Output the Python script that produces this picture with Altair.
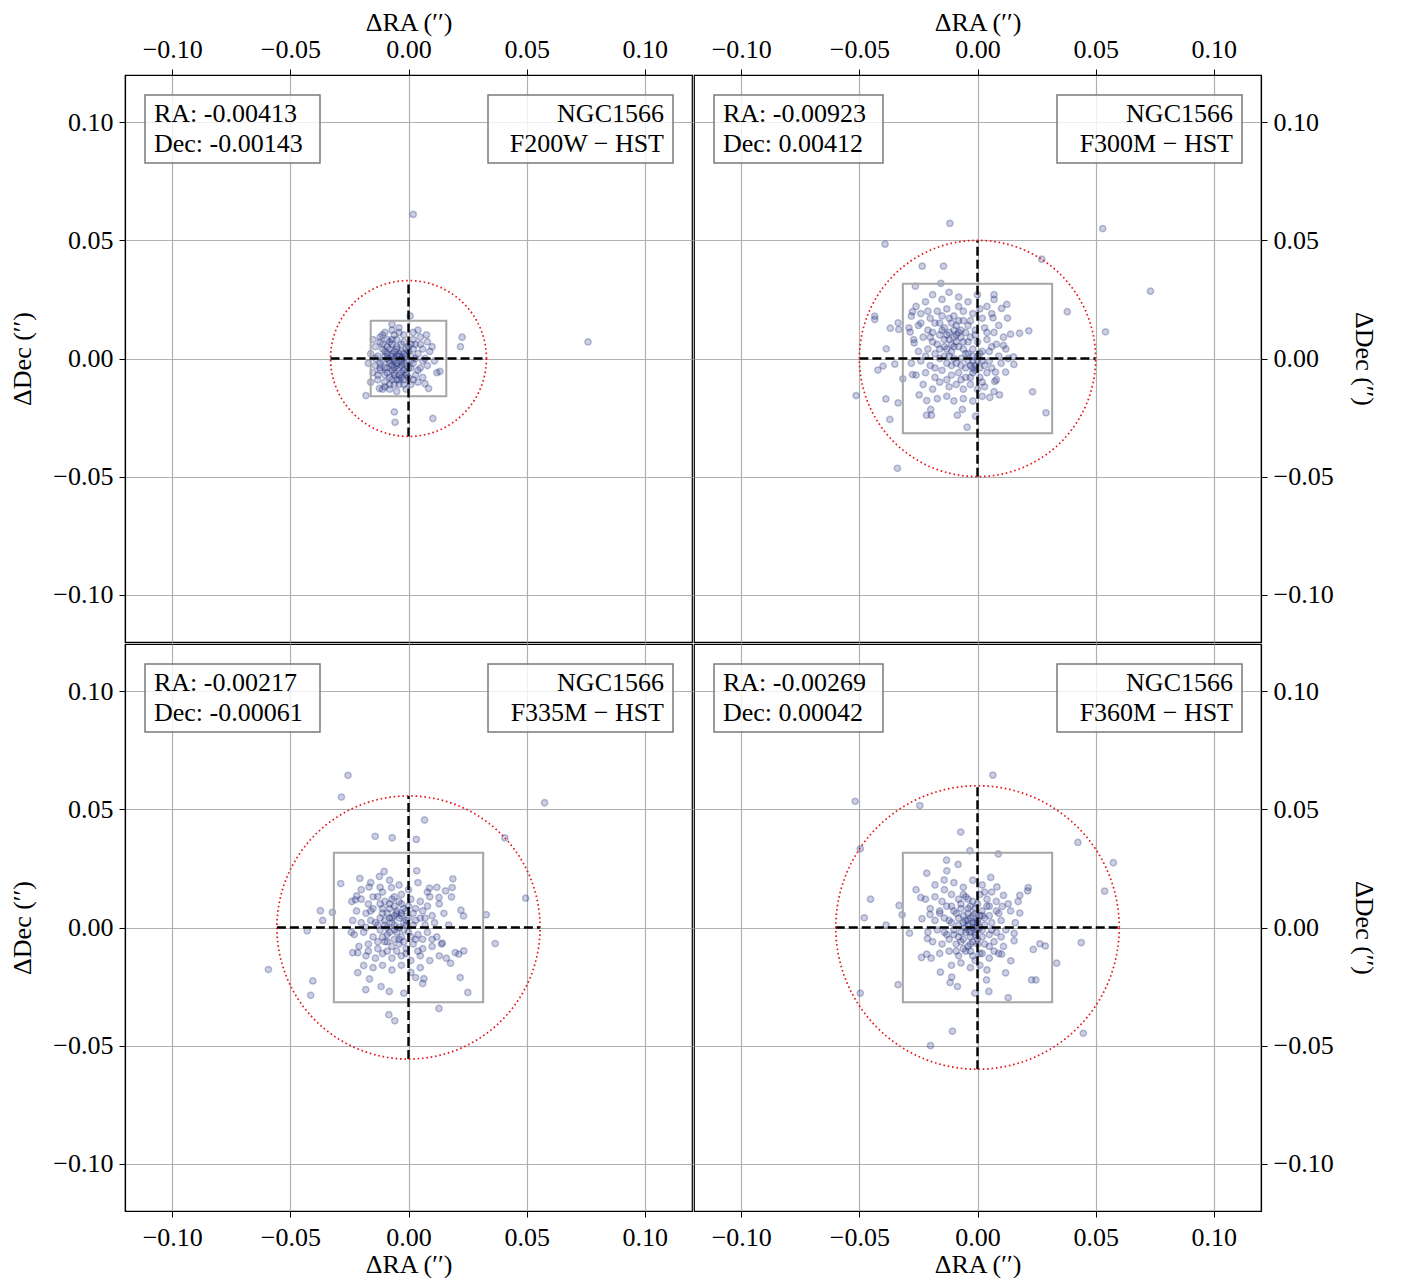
import numpy as np
import pandas as pd
import altair as alt

galaxy = "NGC1566"
filters = ["F200W", "F300M", "F335M", "F360M"]
ra_text = ["-0.00413", "-0.00923", "-0.00217", "-0.00269"]
dec_text = ["-0.00143", "0.00412", "-0.00061", "0.00042"]
circle_r = [0.033, 0.050, 0.0557, 0.060]
box_half = [0.016, 0.0316, 0.0316, 0.0316]
tick_vals = [-0.10, -0.05, 0.0, 0.05, 0.10]
axis_domain = [-0.12, 0.12]

p1_pts = [
    (0.002, 0.061), (0.076, 0.007), (0.0227, 0.009), (0.022, 0.005), (0.0133, -0.0055),
    (-0.018, -0.0157), (-0.006, -0.0226), (-0.0057, -0.027), (0.0103, -0.0254), (0.0007, 0.018),
    (-0.007, 0.0144), (0.0076, 0.010), (0.0085, -0.0127), (0.007, -0.0107), (-0.0123, -0.0127),
    (-0.012, 0.009), (-0.010, 0.011), (-0.007, 0.012), (-0.004, 0.013), (-0.002, 0.010), (0.002, 0.008),
    (0.005, 0.009), (0.008, 0.007), (-0.014, 0.005), (-0.011, 0.006), (-0.008, 0.007), (-0.005, 0.008),
    (-0.003, 0.006), (0.000, 0.005), (0.003, 0.006), (0.006, 0.004), (0.009, 0.003), (-0.016, 0.002),
    (-0.013, 0.001), (-0.010, 0.003), (-0.007, 0.002), (-0.005, 0.004), (-0.002, 0.002), (0.001, 0.001),
    (0.004, 0.002), (0.007, 0.000), (0.011, -0.001), (-0.017, -0.002), (-0.014, -0.003), (-0.011, -0.001),
    (-0.008, -0.002), (-0.006, 0.000), (-0.003, -0.001), (-0.001, -0.003), (0.002, -0.002), (0.005, -0.004),
    (0.008, -0.003), (-0.015, -0.006), (-0.012, -0.005), (-0.009, -0.006), (-0.006, -0.004), (-0.004, -0.007),
    (-0.001, -0.006), (0.003, -0.007), (0.006, -0.008), (-0.013, -0.009), (-0.010, -0.010), (-0.007, -0.009),
    (-0.004, -0.011), (-0.002, -0.009), (0.001, -0.011), (0.004, -0.010), (-0.011, -0.013), (-0.008, -0.013),
    (-0.005, -0.014), (-0.001, -0.013), (-0.009, 0.000), (-0.006, -0.001), (-0.004, 0.001), (-0.007, -0.005),
    (-0.003, -0.003), (-0.005, -0.002), (-0.008, 0.004), (-0.002, -0.005), (-0.012, -0.002), (0.000, 0.003),
    (-0.006, 0.010), (0.004, 0.012), (-0.015, 0.008), (0.010, 0.005), (0.012, -0.006), (-0.016, -0.010),
    (-0.009, 0.005), (-0.004, -0.004), (-0.007, 0.001), (-0.002, 0.000), (-0.010, -0.004), (-0.005, -0.009),
    (-0.011, 0.004), (-0.009, 0.002), (-0.007, 0.006), (-0.005, 0.005), (-0.003, 0.003), (-0.001, 0.004),
    (0.001, 0.006), (0.003, 0.000), (-0.012, -0.004), (-0.010, -0.007), (-0.008, -0.008), (-0.006, -0.006),
    (-0.003, -0.008), (-0.001, -0.007), (0.001, -0.004), (0.002, -0.009), (-0.009, 0.008), (-0.006, 0.003),
    (-0.004, 0.002), (-0.002, -0.002), (0.000, -0.004), (-0.008, -0.001), (-0.010, 0.001), (-0.005, -0.003),
    (-0.007, -0.003), (-0.003, 0.000), (-0.001, 0.001), (-0.006, -0.007), (-0.004, -0.009), (-0.002, -0.011),
    (-0.008, -0.011), (-0.012, 0.007), (0.002, 0.004), (0.004, -0.005), (0.006, -0.001), (0.005, 0.006),
    (-0.013, -0.007), (-0.014, 0.000), (-0.009, -0.004), (-0.005, 0.001), (-0.003, -0.006), (-0.007, 0.008),
    (-0.002, 0.007), (0.001, -0.001), (-0.011, 0.010), (-0.004, 0.011), (0.002, 0.011), (-0.006, -0.011),
    (-0.010, -0.012), (0.000, -0.008),
]

p2_pts = [
    (-0.0117, 0.0572), (-0.0391, 0.0484), (-0.0234, 0.0391), (-0.0144, 0.0391), (-0.0263, 0.0306),
    (-0.0155, 0.0318), (-0.0435, 0.0179), (-0.0435, 0.0165), (-0.0369, 0.0128), (-0.0336, 0.0151),
    (-0.0333, 0.0123), (-0.0386, 0.0041), (-0.0422, -0.0049), (-0.040, -0.0032), (-0.035, -0.0024),
    (-0.0316, -0.0086), (-0.0514, -0.0157), (-0.0388, -0.0171), (-0.0336, -0.0188), (-0.0371, -0.0258),
    (-0.0339, -0.0465), (-0.0247, -0.0154), (-0.0215, -0.0178), (-0.0198, -0.0216), (-0.0216, -0.0240),
    (-0.0195, -0.0240), (-0.0085, -0.0240), (-0.0064, -0.0216), (-0.0044, -0.0291), (-0.0008, -0.0244),
    (-0.0275, -0.0068), (-0.0275, 0.0198), (-0.0285, 0.0112), (-0.0268, 0.0066),
    (0.053, 0.055), (0.0732, 0.0285), (0.0542, 0.0113), (0.038, 0.0198), (0.0272, 0.042),
    (0.0124, 0.0229), (0.0127, 0.0171), (0.014, 0.0103), (0.0178, 0.0107), (0.0217, 0.0117),
    (0.011, 0.0055), (0.0152, 0.0007), (0.0154, -0.0025), (0.0119, -0.0058), (0.0233, -0.0141),
    (0.029, -0.023), (0.0102, 0.0212), (0.007, 0.027), (0.007, 0.025), (0.0066, 0.0172),
    (0.0076, -0.0058), (0.0073, -0.0097), (0.0052, -0.0165), (0.0093, -0.0154),
    (-0.026, 0.022), (-0.022, 0.024), (-0.019, 0.027), (-0.015, 0.025), (-0.012, 0.028), (-0.008, 0.026),
    (-0.004, 0.024), (0.000, 0.027), (0.004, 0.022), (-0.028, 0.018), (-0.024, 0.019), (-0.020, 0.017),
    (-0.017, 0.020), (-0.013, 0.021), (-0.010, 0.018), (-0.006, 0.020), (-0.002, 0.019), (0.002, 0.017),
    (0.006, 0.019), (0.009, 0.014), (-0.029, 0.013), (-0.025, 0.014), (-0.021, 0.012), (-0.018, 0.015),
    (-0.014, 0.013), (-0.011, 0.015), (-0.007, 0.012), (-0.004, 0.014), (-0.001, 0.012), (0.003, 0.013),
    (0.007, 0.011), (0.011, 0.009), (-0.027, 0.008), (-0.023, 0.009), (-0.019, 0.007), (-0.016, 0.010),
    (-0.012, 0.008), (-0.009, 0.010), (-0.006, 0.007), (-0.003, 0.009), (0.000, 0.007), (0.004, 0.008),
    (0.008, 0.006), (0.012, 0.004), (-0.025, 0.003), (-0.021, 0.004), (-0.018, 0.002), (-0.014, 0.005),
    (-0.011, 0.003), (-0.008, 0.005), (-0.005, 0.002), (-0.002, 0.004), (0.001, 0.002), (0.005, 0.003),
    (0.009, 0.001), (0.013, 0.000), (-0.028, -0.002), (-0.024, -0.001), (-0.020, -0.003), (-0.016, 0.000),
    (-0.013, -0.002), (-0.010, 0.000), (-0.007, -0.003), (-0.004, -0.001), (-0.001, -0.003), (0.002, -0.001),
    (0.006, -0.004), (0.010, -0.002), (-0.026, -0.007), (-0.022, -0.006), (-0.018, -0.008), (-0.015, -0.005),
    (-0.011, -0.007), (-0.008, -0.006), (-0.005, -0.008), (-0.002, -0.006), (0.001, -0.008), (0.004, -0.006),
    (0.008, -0.009), (-0.023, -0.011), (-0.019, -0.013), (-0.016, -0.010), (-0.012, -0.012), (-0.009, -0.011),
    (-0.006, -0.013), (-0.003, -0.011), (0.000, -0.013), (0.003, -0.012), (0.007, -0.014), (-0.017, -0.017),
    (-0.013, -0.016), (-0.010, -0.018), (-0.006, -0.017), (-0.002, -0.018), (0.002, -0.016), (-0.011, 0.006),
    (-0.009, 0.007), (-0.013, 0.010), (-0.003, -0.003), (-0.001, -0.005), (-0.015, 0.018), (-0.008, 0.016),
    (-0.005, 0.011), (-0.010, 0.012), (-0.002, 0.001), (0.000, -0.001), (-0.012, 0.001),
    (-0.014, 0.008), (-0.012, 0.011), (-0.010, 0.009), (-0.008, 0.011), (-0.015, 0.012), (-0.017, 0.006),
    (-0.013, 0.004), (-0.010, 0.005), (-0.007, 0.009), (-0.006, 0.004), (-0.004, 0.007), (-0.004, 0.002),
    (-0.002, -0.001), (-0.002, -0.004), (0.000, 0.001), (0.001, -0.004), (0.003, -0.003), (0.002, 0.003),
    (-0.005, -0.004), (-0.007, 0.000), (-0.009, -0.002), (-0.011, -0.003), (-0.014, 0.001), (-0.016, 0.004),
    (-0.019, 0.011), (-0.016, 0.015), (-0.012, 0.017), (-0.009, 0.014), (-0.006, 0.016), (-0.003, 0.016),
    (-0.020, 0.009), (-0.022, 0.001), (-0.018, -0.004), (-0.013, -0.009), (-0.007, -0.009), (-0.003, -0.008),
    (0.002, -0.010), (0.005, -0.001), (0.006, 0.005), (0.004, 0.011), (-0.001, 0.010), (-0.024, 0.015),
    (-0.021, 0.020), (-0.008, 0.022), (0.001, 0.021),
]

p3_pts = [
    (-0.0256, 0.0644), (-0.0284, 0.0552), (-0.0141, 0.0386), (-0.0069, 0.038), (-0.0287, 0.0186),
    (-0.0206, 0.0208), (-0.0167, 0.0171), (-0.0373, 0.0071), (-0.0363, 0.003), (-0.0322, 0.0064),
    (-0.0429, -0.0014), (-0.0593, -0.0178), (-0.0405, -0.0226), (-0.0414, -0.0287), (-0.0181, -0.0263),
    (-0.0083, -0.0369), (-0.0058, -0.0395), (-0.0219, 0.0134), (-0.0225, 0.0117), (-0.0236, 0.003),
    (-0.0242, -0.002), (-0.0236, -0.0107), (-0.0215, -0.0107), (-0.0215, -0.0191), (-0.019, -0.0161),
    (-0.0165, -0.0218), (-0.0116, -0.025), (-0.0081, -0.0271), (-0.0103, 0.0237), (-0.0123, 0.0216),
    (-0.0072, 0.0169), (-0.002, -0.0278),
    (0.0576, 0.0528), (0.0068, 0.0455), (0.0033, 0.0373), (0.0408, 0.0379), (0.0496, 0.0124),
    (0.0329, 0.0054), (0.0367, -0.0068), (0.0251, -0.0275), (0.0129, -0.0343), (0.0219, -0.0212),
    (0.0188, 0.0206), (0.0185, 0.0169), (0.0182, 0.0129), (0.0157, 0.0155), (0.0222, 0.0073),
    (0.0233, 0.0049), (0.0234, -0.0099), (0.0213, -0.0113), (0.0198, -0.0106), (0.0178, -0.0151),
    (0.016, -0.013), (0.0143, -0.0066), (0.0035, 0.024), (0.0065, -0.0217), (0.006, -0.0237),
    (0.003, -0.0212), (0.0129, 0.0127), (0.0089, 0.0167),
    (-0.020, 0.016), (-0.016, 0.019), (-0.012, 0.017), (-0.008, 0.020), (-0.004, 0.018), (0.000, 0.016),
    (0.004, 0.019), (0.008, 0.015), (0.012, 0.017), (-0.024, 0.011), (-0.020, 0.012), (-0.017, 0.010),
    (-0.013, 0.013), (-0.010, 0.011), (-0.006, 0.013), (-0.003, 0.010), (0.001, 0.012), (0.005, 0.011),
    (0.009, 0.013), (0.013, 0.010), (-0.022, 0.007), (-0.018, 0.006), (-0.015, 0.008), (-0.011, 0.006),
    (-0.008, 0.008), (-0.005, 0.006), (-0.002, 0.008), (0.002, 0.006), (0.006, 0.007), (0.010, 0.005),
    (0.015, 0.006), (-0.020, 0.002), (-0.016, 0.003), (-0.013, 0.001), (-0.010, 0.003), (-0.007, 0.002),
    (-0.004, 0.004), (-0.001, 0.001), (0.003, 0.003), (0.007, 0.001), (0.011, 0.002), (0.017, 0.001),
    (-0.023, -0.003), (-0.019, -0.002), (-0.015, -0.004), (-0.012, -0.001), (-0.009, -0.003), (-0.006, -0.001),
    (-0.003, -0.004), (0.000, -0.002), (0.004, -0.003), (0.008, -0.002), (0.012, -0.004), (-0.021, -0.008),
    (-0.017, -0.007), (-0.013, -0.009), (-0.010, -0.006), (-0.007, -0.008), (-0.004, -0.007), (-0.001, -0.009),
    (0.002, -0.007), (0.006, -0.009), (0.010, -0.008), (0.014, -0.007), (-0.018, -0.012), (-0.014, -0.013),
    (-0.011, -0.011), (-0.007, -0.013), (-0.003, -0.012), (0.001, -0.014), (0.005, -0.012), (0.009, -0.014),
    (0.013, -0.012), (-0.015, -0.017), (-0.011, -0.016), (-0.007, -0.018), (-0.003, -0.016), (0.001, -0.019),
    (0.005, -0.017), (-0.008, 0.004), (-0.006, 0.005), (-0.005, -0.002), (-0.002, 0.002), (-0.009, 0.000),
    (-0.003, 0.006), (-0.006, 0.009), (0.000, 0.004), (-0.011, -0.004), (0.003, -0.005), (-0.004, -0.005),
    (-0.001, 0.007),
    (-0.009, 0.006), (-0.007, 0.004), (-0.005, 0.007), (-0.003, 0.005), (-0.001, 0.003), (-0.006, 0.001),
    (-0.004, 0.000), (-0.002, -0.001), (-0.008, -0.002), (-0.010, 0.001), (-0.012, 0.004), (-0.011, 0.008),
    (-0.008, 0.010), (-0.004, 0.011), (0.000, 0.009), (0.002, 0.001), (0.001, -0.004), (-0.002, -0.006),
    (-0.006, -0.005), (-0.009, -0.006), (-0.013, -0.006), (-0.014, 0.002), (-0.016, 0.007), (-0.012, 0.010),
    (-0.007, 0.012), (0.003, 0.008), (0.005, 0.004), (0.006, -0.005), (-0.001, -0.011), (-0.005, -0.010),
    (-0.009, -0.010), (-0.018, 0.000), (-0.015, 0.013), (0.008, 0.009), (0.010, -0.005), (0.004, -0.010),
    (-0.017, -0.010), (-0.003, 0.014), (-0.011, 0.015), (0.007, 0.004),
]

p4_pts = [
    (-0.0518, 0.0534), (-0.0244, 0.0516), (-0.0071, 0.0404), (-0.0032, 0.0325), (-0.0496, 0.0333),
    (-0.0453, 0.012), (-0.0479, 0.0041), (-0.0387, 0.001), (-0.0332, 0.0093), (-0.0319, 0.0054),
    (-0.0288, -0.0024), (-0.026, 0.016), (-0.024, 0.0127), (-0.0215, 0.023), (-0.0131, 0.0285),
    (-0.0082, 0.0267), (-0.013, 0.024), (-0.0141, 0.0201), (-0.0336, -0.0242), (-0.0496, -0.0278),
    (-0.0106, -0.0439), (-0.0199, -0.05), (-0.0157, -0.0189), (-0.0109, -0.021), (-0.0085, -0.025),
    (-0.0116, -0.0233), (-0.0237, -0.0127), (-0.0215, -0.0113), (-0.0196, -0.013), (-0.0212, -0.0047),
    (-0.0235, 0.0037), (-0.0201, 0.0055), (-0.0011, -0.0278),
    (0.0065, 0.0645), (0.0425, 0.036), (0.0575, 0.0274), (0.0538, 0.0154), (0.0439, -0.0064),
    (0.0335, -0.0151), (0.0448, -0.0448), (0.0088, 0.0311), (0.0056, 0.0212), (0.0082, 0.0172),
    (0.0215, 0.0169), (0.0212, 0.0155), (0.0179, 0.0136), (0.0172, 0.011), (0.0179, 0.0061),
    (0.0155, -0.0025), (0.0155, -0.0056), (0.0236, -0.0093), (0.0264, -0.0069), (0.0287, -0.0078),
    (0.0229, -0.0222), (0.0247, -0.0222), (0.013, -0.0297), (0.0048, -0.0271), (0.0038, -0.0222),
    (0.0119, -0.0192), (0.0141, -0.0141), (0.0102, -0.0113), (0.011, 0.0136), (0.0105, 0.0089),
    (-0.018, 0.018), (-0.014, 0.016), (-0.010, 0.019), (-0.006, 0.017), (-0.002, 0.020), (0.002, 0.018),
    (0.006, 0.015), (-0.022, 0.012), (-0.018, 0.013), (-0.015, 0.011), (-0.011, 0.014), (-0.008, 0.012),
    (-0.005, 0.013), (-0.002, 0.011), (0.001, 0.014), (0.004, 0.012), (0.008, 0.011), (0.013, 0.010),
    (-0.020, 0.008), (-0.016, 0.007), (-0.013, 0.009), (-0.010, 0.007), (-0.007, 0.008), (-0.004, 0.006),
    (-0.001, 0.008), (0.002, 0.007), (0.005, 0.009), (0.009, 0.006), (0.014, 0.007), (-0.018, 0.003),
    (-0.014, 0.004), (-0.011, 0.002), (-0.008, 0.004), (-0.005, 0.003), (-0.003, 0.004), (0.000, 0.002),
    (0.003, 0.004), (0.006, 0.002), (0.010, 0.003), (0.016, 0.002), (-0.021, -0.002), (-0.017, -0.001),
    (-0.013, -0.003), (-0.010, -0.001), (-0.007, -0.002), (-0.004, -0.001), (-0.001, -0.003), (0.002, -0.001),
    (0.005, -0.003), (0.008, -0.002), (0.012, -0.001), (-0.019, -0.006), (-0.015, -0.007), (-0.012, -0.005),
    (-0.009, -0.007), (-0.006, -0.005), (-0.003, -0.007), (0.000, -0.005), (0.003, -0.007), (0.007, -0.006),
    (0.011, -0.008), (-0.016, -0.011), (-0.012, -0.010), (-0.008, -0.012), (-0.005, -0.010), (-0.002, -0.012),
    (0.002, -0.011), (0.005, -0.013), (0.009, -0.011), (-0.011, -0.016), (-0.007, -0.015), (-0.003, -0.017),
    (0.001, -0.016), (0.004, -0.018), (-0.004, 0.001), (-0.002, 0.000), (-0.001, 0.002), (-0.003, -0.002),
    (-0.005, 0.000), (0.000, -0.001), (-0.006, 0.002), (-0.002, 0.005), (-0.008, -0.004), (0.001, 0.005),
    (-0.003, 0.009), (-0.006, -0.009),
    (-0.004, 0.003), (-0.002, 0.002), (0.000, 0.003), (0.001, 0.000), (-0.001, -0.002), (-0.003, -0.004),
    (-0.005, -0.002), (-0.006, 0.005), (-0.004, 0.008), (-0.001, 0.006), (0.002, 0.005), (0.003, 0.001),
    (0.002, -0.004), (0.000, -0.007), (-0.002, -0.006), (-0.004, -0.008), (-0.007, -0.006), (-0.008, 0.001),
    (-0.009, 0.006), (-0.007, 0.010), (-0.004, 0.012), (0.000, 0.010), (0.004, 0.009), (0.005, 0.005),
    (0.006, -0.001), (0.005, -0.008), (0.001, -0.011), (-0.003, -0.010), (-0.010, -0.003), (-0.012, 0.003),
    (-0.011, 0.009), (-0.009, -0.010), (-0.014, -0.002), (0.008, 0.007), (0.010, -0.004), (-0.006, 0.014),
    (0.003, 0.015), (-0.001, -0.014), (-0.016, 0.006), (0.007, -0.010),
]

NAVY = "#1b2a7a"
FONT = "Liberation Serif"
FS = 26
W = 567
SEP = " \u2212 "


def panel(k, pts, xorient, yorient, lbox_w):
    xsc = alt.Scale(domain=axis_domain, nice=False, zero=False)
    ysc = alt.Scale(domain=axis_domain, nice=False, zero=False)
    xax = alt.Axis(orient=xorient, values=tick_vals, format=".2f", title="ΔRA (′′)")
    yax = alt.Axis(orient=yorient, values=tick_vals, format=".2f", title="ΔDec (′′)")

    def X(f):
        return alt.X(f, type="quantitative", scale=xsc, axis=xax)

    def Y(f):
        return alt.Y(f, type="quantitative", scale=ysc, axis=yax)

    df = pd.DataFrame(pts, columns=["x", "y"])
    points = alt.Chart(df).mark_point(
        shape="circle", filled=True, size=40, fill=NAVY, stroke=NAVY, opacity=1,
        fillOpacity=0.22, strokeOpacity=0.28, strokeWidth=1.5
    ).encode(x=X("x"), y=Y("y"))

    h = box_half[k]
    sq = alt.Chart(pd.DataFrame({"x": [-h], "x2": [h], "y": [-h], "y2": [h]})).mark_rect(
        fill="white", fillOpacity=0, stroke="#a6a6a6", strokeWidth=2
    ).encode(x=X("x"), x2="x2", y=Y("y"), y2="y2")

    r = circle_r[k]
    ang = np.linspace(0, 2 * np.pi, 361)
    circ = pd.DataFrame({"x": r * np.cos(ang), "y": r * np.sin(ang), "i": np.arange(361)})
    circle = alt.Chart(circ).mark_line(
        color="#e3161b", strokeWidth=1.7, strokeDash=[1.6, 2.8]
    ).encode(x=X("x"), y=Y("y"), order="i:Q")

    cross = alt.Chart(pd.DataFrame({"x": [-r, 0], "x2": [r, 0], "y": [0, -r], "y2": [0, r]})).mark_rule(
        color="black", strokeWidth=2.4, strokeDash=[9, 4]
    ).encode(x=X("x"), x2="x2", y=Y("y"), y2="y2")

    one = pd.DataFrame({"a": [0]})
    lbox = alt.Chart(one).mark_rect(
        fill="white", fillOpacity=0.8, stroke="#7a7a7a", strokeWidth=1.5
    ).encode(x=alt.value(20), x2=alt.value(20 + lbox_w), y=alt.value(20), y2=alt.value(88))
    rbox = alt.Chart(one).mark_rect(
        fill="white", fillOpacity=0.8, stroke="#7a7a7a", strokeWidth=1.5
    ).encode(x=alt.value(363), x2=alt.value(548), y=alt.value(20), y2=alt.value(88))

    def txt(s, x, y, align):
        return alt.Chart(one).mark_text(
            text=s, align=align, baseline="alphabetic", font=FONT, fontSize=FS, color="black"
        ).encode(x=alt.value(x), y=alt.value(y))

    texts = [
        txt("RA: " + ra_text[k], 29, 47, "left"),
        txt("Dec: " + dec_text[k], 29, 77, "left"),
        txt(galaxy, 539, 47, "right"),
        txt(filters[k] + SEP + "HST", 539, 77, "right"),
    ]
    return alt.layer(points, sq, cross, circle, lbox, rbox, *texts).properties(width=W, height=W)


c1 = panel(0, p1_pts, "top", "left", 175)
c2 = panel(1, p2_pts, "top", "right", 169)
c3 = panel(2, p3_pts, "bottom", "left", 175)
c4 = panel(3, p4_pts, "bottom", "right", 169)

chart = alt.concat(c1, c2, c3, c4, columns=2, spacing=0).properties(
    padding={"left": 1, "top": 0, "right": 14, "bottom": 0}
).configure_view(
    stroke="black", strokeWidth=1.2
).configure_axis(
    labelFont=FONT, labelFontSize=FS, labelColor="black",
    titleFont=FONT, titleFontSize=FS, titleFontWeight="normal", titleColor="black",
    tickColor="black", tickSize=6, tickWidth=1, domainColor="black", domainWidth=1.2,
    gridColor="#b0b0b0", gridWidth=1.2, labelPadding=6,
).configure_axisTop(titlePadding=1, labelPadding=7).configure_axisBottom(
    titlePadding=1, labelPadding=7
).configure_axisLeft(titlePadding=17).configure_axisRight(titlePadding=17)

chart.save("out.html", embed_options={"renderer": "svg", "actions": False})
